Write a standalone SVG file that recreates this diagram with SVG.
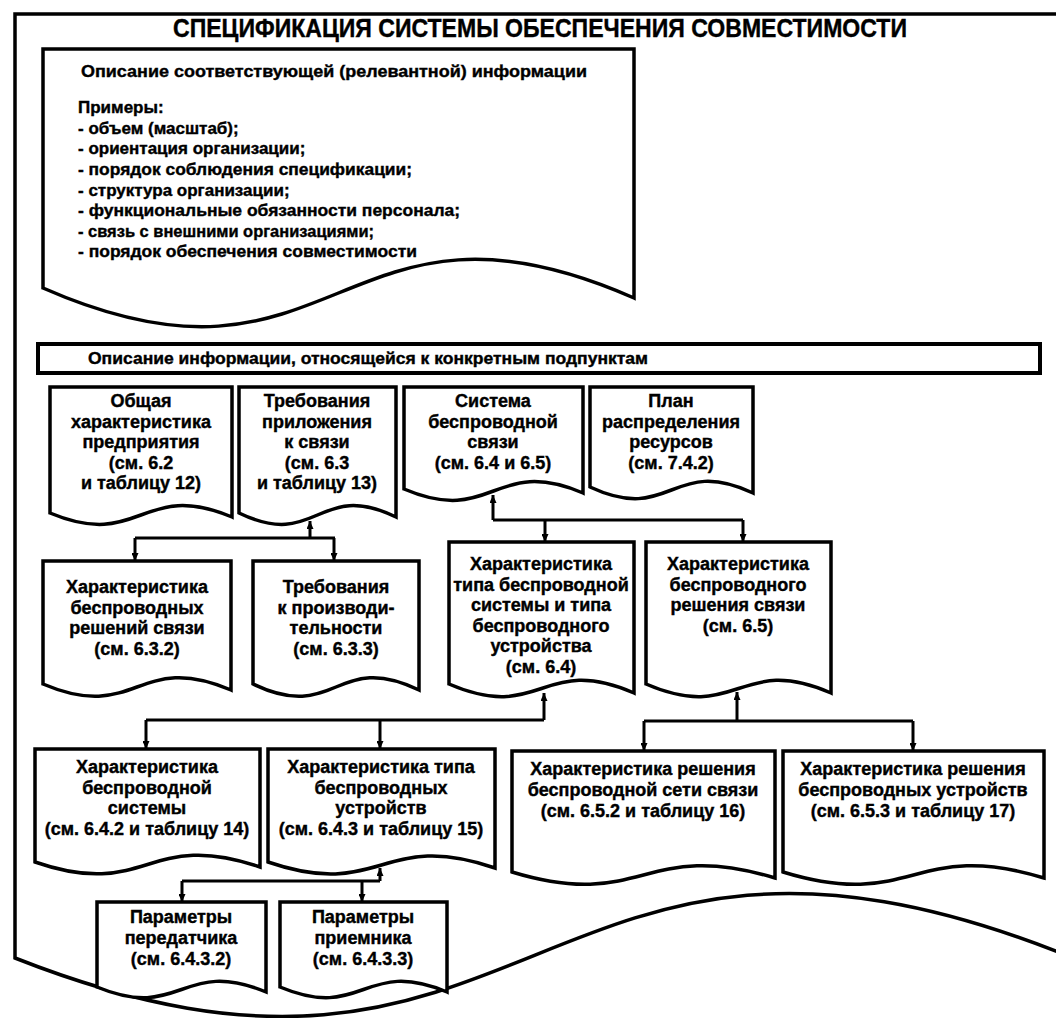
<svg xmlns="http://www.w3.org/2000/svg" width="1056" height="1018" viewBox="0 0 1056 1018">
<style>
.frame{fill:none;stroke:#000;stroke-width:3.5}
.box{fill:#fff;stroke:#000;stroke-width:3.5;stroke-linejoin:miter}
.bar{fill:#fff;stroke:#000;stroke-width:4}
.con{fill:none;stroke:#000;stroke-width:3}
text{font-family:"Liberation Sans",Arial,sans-serif;font-weight:bold;fill:#000;stroke:#000;stroke-width:0.4}
.t{font-size:18px;text-anchor:middle}
.l{font-size:17px}
.title{font-size:25.5px;text-anchor:middle}
</style>
<defs>
<marker id="ah" viewBox="0 0 8 7" refX="8" refY="3.5" markerWidth="8" markerHeight="7" markerUnits="userSpaceOnUse" orient="auto"><path d="M0,0 L8,3.5 L0,7 z" fill="#000"/></marker>
</defs>
<rect width="1056" height="1018" fill="#fff"/>

<g id="frame">
<path class="frame" d="M1058,14 H15 V958 C535,1163 535,747 1058,952"/>
<text class="title" x="540" y="37" textLength="734" lengthAdjust="spacingAndGlyphs">СПЕЦИФИКАЦИЯ СИСТЕМЫ ОБЕСПЕЧЕНИЯ СОВМЕСТИМОСТИ</text>
</g>

<g id="relevant-info">
<path class="box" d="M43,49 H634 V298 C338.5,168 338.5,418 43,288 Z"/>
<text class="l" x="81" y="77" textLength="506" lengthAdjust="spacingAndGlyphs">Описание соответствующей (релевантной) информации</text>
<text class="l" x="78" y="113">Примеры:</text>
<text class="l" x="78" y="133.5">- объем (масштаб);</text>
<text class="l" x="78" y="154">- ориентация организации;</text>
<text class="l" x="78" y="175" textLength="334" lengthAdjust="spacingAndGlyphs">- порядок соблюдения спецификации;</text>
<text class="l" x="78" y="195.5">- структура организации;</text>
<text class="l" x="78" y="216" textLength="382" lengthAdjust="spacingAndGlyphs">- функциональные обязанности персонала;</text>
<text class="l" x="78" y="236.5" textLength="296" lengthAdjust="spacingAndGlyphs">- связь с внешними организациями;</text>
<text class="l" x="78" y="257" textLength="339" lengthAdjust="spacingAndGlyphs">- порядок обеспечения совместимости</text>
</g>

<g id="subclauses-bar">
<rect class="bar" x="38" y="344" width="1002" height="29"/>
<text class="l" x="88" y="364" textLength="560" lengthAdjust="spacingAndGlyphs">Описание информации, относящейся к конкретным подпунктам</text>
</g>

<g id="connectors">
<path class="con" d="M135,538 H335"/>
<path class="con" d="M310,538 V521" marker-end="url(#ah)"/>
<path class="con" d="M135,538 V561" marker-end="url(#ah)"/>
<path class="con" d="M334,538 V561" marker-end="url(#ah)"/>

<path class="con" d="M493,520 H743"/>
<path class="con" d="M493,520 V495" marker-end="url(#ah)"/>
<path class="con" d="M545,520 V542" marker-end="url(#ah)"/>
<path class="con" d="M743,520 V542" marker-end="url(#ah)"/>

<path class="con" d="M146,720 H544"/>
<path class="con" d="M544,720 V693" marker-end="url(#ah)"/>
<path class="con" d="M146,720 V749" marker-end="url(#ah)"/>
<path class="con" d="M380,720 V749" marker-end="url(#ah)"/>

<path class="con" d="M644,721 H913"/>
<path class="con" d="M737,721 V692" marker-end="url(#ah)"/>
<path class="con" d="M644,721 V751" marker-end="url(#ah)"/>
<path class="con" d="M913,721 V751" marker-end="url(#ah)"/>

<path class="con" d="M182,881 H380"/>
<path class="con" d="M380,881 V868" marker-end="url(#ah)"/>
<path class="con" d="M182,881 V902" marker-end="url(#ah)"/>
<path class="con" d="M362,881 V902" marker-end="url(#ah)"/>
</g>

<g id="general-enterprise">
<path class="box" d="M50,387 H232 V517 C141,479 141,551 50,513 Z"/>
<text class="t" x="141" y="407">Общая</text>
<text class="t" x="141" y="427.5">характеристика</text>
<text class="t" x="141" y="448">предприятия</text>
<text class="t" x="141" y="468.5">(см. 6.2</text>
<text class="t" x="141" y="489">и таблицу 12)</text>
</g>

<g id="app-requirements">
<path class="box" d="M239,387 H396 V517 C317.5,479 317.5,551 239,513 Z"/>
<text class="t" x="317" y="407">Требования</text>
<text class="t" x="317" y="427.5">приложения</text>
<text class="t" x="317" y="448">к связи</text>
<text class="t" x="317" y="468.5">(см. 6.3</text>
<text class="t" x="317" y="489">и таблицу 13)</text>
</g>

<g id="wireless-system">
<path class="box" d="M404,387 H583 V493 C493.5,455 493.5,527 404,489 Z"/>
<text class="t" x="493" y="407">Система</text>
<text class="t" x="493" y="427.5">беспроводной</text>
<text class="t" x="493" y="448">связи</text>
<text class="t" x="493" y="468.5">(см. 6.4 и 6.5)</text>
</g>

<g id="resource-plan">
<path class="box" d="M590,387 H753 V493 C671.5,455 671.5,525 590,487 Z"/>
<text class="t" x="671" y="407">План</text>
<text class="t" x="671" y="427.5">распределения</text>
<text class="t" x="671" y="448">ресурсов</text>
<text class="t" x="671" y="468.5">(см. 7.4.2)</text>
</g>

<g id="wireless-solutions">
<path class="box" d="M43,561 H231 V690 C137,650 137,724 43,684 Z"/>
<text class="t" x="137" y="593">Характеристика</text>
<text class="t" x="137" y="613.5">беспроводных</text>
<text class="t" x="137" y="634">решений связи</text>
<text class="t" x="137" y="654.5">(см. 6.3.2)</text>
</g>

<g id="performance-req">
<path class="box" d="M253,561 H419 V690 C336,650 336,724 253,684 Z"/>
<text class="t" x="336" y="593">Требования</text>
<text class="t" x="336" y="613.5">к производи-</text>
<text class="t" x="336" y="634">тельности</text>
<text class="t" x="336" y="654.5">(см. 6.3.3)</text>
</g>

<g id="system-device-type">
<path class="box" d="M449,542 H634 V693 C541.5,653 541.5,724 449,684 Z"/>
<text class="t" x="541" y="570">Характеристика</text>
<text class="t" x="541" y="590.5">типа беспроводной</text>
<text class="t" x="541" y="611">системы и типа</text>
<text class="t" x="541" y="631.5">беспроводного</text>
<text class="t" x="541" y="652">устройства</text>
<text class="t" x="541" y="672.5">(см. 6.4)</text>
</g>

<g id="wireless-solution">
<path class="box" d="M646,542 H831 V693 C738.5,653 738.5,724 646,684 Z"/>
<text class="t" x="738" y="570">Характеристика</text>
<text class="t" x="738" y="590.5">беспроводного</text>
<text class="t" x="738" y="611">решения связи</text>
<text class="t" x="738" y="631.5">(см. 6.5)</text>
</g>

<g id="wireless-system-char">
<path class="box" d="M35,749 H260 V867 C147.5,828 147.5,901 35,862 Z"/>
<text class="t" x="147" y="773">Характеристика</text>
<text class="t" x="147" y="793.5">беспроводной</text>
<text class="t" x="147" y="814">системы</text>
<text class="t" x="147" y="834.5">(см. 6.4.2 и таблицу 14)</text>
</g>

<g id="device-type-char">
<path class="box" d="M268,749 H495 V868 C381.5,829 381.5,901 268,862 Z"/>
<text class="t" x="381" y="773">Характеристика типа</text>
<text class="t" x="381" y="793.5">беспроводных</text>
<text class="t" x="381" y="814">устройств</text>
<text class="t" x="381" y="834.5">(см. 6.4.3 и таблицу 15)</text>
</g>

<g id="network-solution-char">
<path class="box" d="M512,751 H775 V878 C643.5,838 643.5,912 512,872 Z"/>
<text class="t" x="643" y="775">Характеристика решения</text>
<text class="t" x="643" y="796">беспроводной сети связи</text>
<text class="t" x="643" y="817">(см. 6.5.2 и таблицу 16)</text>
</g>

<g id="device-solution-char">
<path class="box" d="M783,751 H1044 V878 C913.5,838 913.5,912 783,872 Z"/>
<text class="t" x="913" y="775">Характеристика решения</text>
<text class="t" x="913" y="796">беспроводных устройств</text>
<text class="t" x="913" y="817">(см. 6.5.3 и таблицу 17)</text>
</g>

<g id="transmitter-params">
<path class="box" d="M97,902 H266 V992 C181.5,957 181.5,1022 97,987 Z"/>
<text class="t" x="181" y="923">Параметры</text>
<text class="t" x="181" y="944">передатчика</text>
<text class="t" x="181" y="965">(см. 6.4.3.2)</text>
</g>

<g id="receiver-params">
<path class="box" d="M280,902 H447 V992 C363.5,957 363.5,1022 280,987 Z"/>
<text class="t" x="363" y="923">Параметры</text>
<text class="t" x="363" y="944">приемника</text>
<text class="t" x="363" y="965">(см. 6.4.3.3)</text>
</g>
</svg>
